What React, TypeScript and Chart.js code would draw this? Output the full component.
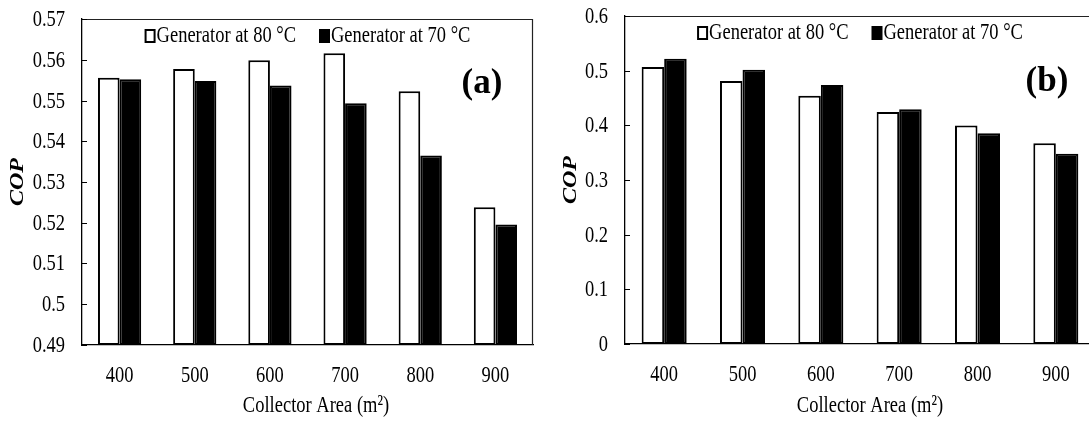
import React, { useEffect, useRef } from "react";
import { Chart, registerables } from "chart.js";

Chart.register(...registerables);

const categories = ["400", "500", "600", "700", "800", "900"];
const legendLabels = ["Generator at 80 °C", "Generator at 70 °C"];
const copA80 = [0.5556, 0.5577, 0.5599, 0.5616, 0.5523, 0.5238];
const copA70 = [0.5552, 0.5548, 0.5537, 0.5493, 0.5365, 0.5196];
const copB80 = [0.5065, 0.481, 0.4543, 0.4245, 0.3996, 0.3674];
const copB70 = [0.5217, 0.5016, 0.4737, 0.4294, 0.3857, 0.348];
const yAxisA = { min: 0.49, max: 0.57, step: 0.01 };
const yAxisB = { min: 0, max: 0.6, step: 0.1 };
const xTitle = "Collector Area (m²)";
const yTitle = "COP";

const SERIF = "'Liberation Serif', 'Times New Roman', serif";
const SY = 1.3;

function txt(
  ctx: CanvasRenderingContext2D,
  s: string,
  x: number,
  y: number,
  font: string,
  align: CanvasTextAlign,
  sy = SY,
  rotate = false
) {
  ctx.save();
  ctx.translate(x, y);
  ctx.scale(1, sy);
  if (rotate) ctx.rotate(-Math.PI / 2);
  ctx.font = font;
  ctx.fillStyle = "#000";
  ctx.textAlign = align;
  ctx.textBaseline = "middle";
  ctx.fillText(s, 0, 0);
  ctx.restore();
}

type Cfg = {
  v80: number[];
  v70: number[];
  axis: { min: number; max: number; step: number };
  padTop: number;
  padRight: number;
  yW: number;
  xH: number;
  panel: string;
  panelX: number;
  panelY: number;
  copX: number;
  titleX: number;
};

function fmt(v: number) {
  return String(Number(v.toFixed(2)));
}

function makeChart(canvas: HTMLCanvasElement, c: Cfg) {
  const deco = {
    id: "deco",
    afterDraw(chart: any) {
      const ctx: CanvasRenderingContext2D = chart.ctx;
      const a = chart.chartArea;
      const ys = chart.scales.y;
      const xs = chart.scales.x;
      const f = `18.5px ${SERIF}`;
      ctx.save();
      // top & right border
      ctx.strokeStyle = "#222";
      ctx.lineWidth = 1.2;
      ctx.beginPath();
      ctx.moveTo(a.left, a.top + 0.5);
      ctx.lineTo(a.right - 0.5, a.top + 0.5);
      ctx.lineTo(a.right - 0.5, a.bottom);
      ctx.stroke();
      // inward ticks + labels
      ctx.strokeStyle = "#000";
      ctx.lineWidth = 1;
      ys.ticks.forEach((t: any) => {
        const py = Math.round(ys.getPixelForValue(t.value)) + 0.5;
        ctx.beginPath();
        ctx.moveTo(a.left, py);
        ctx.lineTo(a.left + 5, py);
        ctx.stroke();
        txt(ctx, fmt(t.value), a.left - 17, py, f, "right");
      });
      categories.forEach((cat, i) => {
        txt(ctx, cat, xs.getPixelForValue(i), a.bottom + 31, f, "center");
      });
      txt(ctx, xTitle, c.titleX, 406, f, "center");
      txt(
        ctx,
        yTitle,
        c.copX,
        (a.top + a.bottom) / 2,
        `italic bold 18.5px ${SERIF}`,
        "center",
        SY,
        true
      );
      // legend
      ctx.font = f;
      const w1 = ctx.measureText(legendLabels[0]).width;
      const w2 = ctx.measureText(legendLabels[1]).width;
      const box = 11;
      const gap = 23;
      const total = box + 1 + w1 + gap + box + 1 + w2;
      let lx = (a.left + a.right) / 2 - total / 2;
      const ly = a.top + 17;
      ctx.lineWidth = 2;
      ctx.strokeStyle = "#000";
      ctx.fillStyle = "#fff";
      ctx.fillRect(lx + 1, ly - 6, box - 2, 12);
      ctx.strokeRect(lx + 1, ly - 6, box - 2, 12);
      txt(ctx, legendLabels[0], lx + box + 1, ly, f, "left");
      lx += box + 1 + w1 + gap;
      ctx.fillStyle = "#000";
      ctx.fillRect(lx, ly - 7, box, 14);
      txt(ctx, legendLabels[1], lx + box + 1, ly, f, "left");
      // panel label
      txt(ctx, c.panel, c.panelX, c.panelY, `bold 35px ${SERIF}`, "center", 1.05);
      ctx.restore();
    },
  };

  return new Chart(canvas, {
    type: "bar",
    data: {
      labels: categories,
      datasets: [
        {
          label: legendLabels[0],
          data: c.v80,
          backgroundColor: "#fff",
          borderColor: "#000",
          borderWidth: 2,
          borderSkipped: false,
          base: c.axis.min,
          categoryPercentage: 0.575,
          barPercentage: 1,
        },
        {
          label: legendLabels[1],
          data: c.v70,
          backgroundColor: "#000",
          borderColor: "#000",
          borderWidth: 2,
          borderSkipped: false,
          base: c.axis.min,
          categoryPercentage: 0.575,
          barPercentage: 1,
        },
      ],
    },
    options: {
      responsive: false,
      animation: false,
      layout: { padding: { left: 0, top: c.padTop, right: c.padRight, bottom: 0 } },
      plugins: { legend: { display: false }, tooltip: { enabled: false } },
      scales: {
        x: {
          grid: { display: false },
          border: { display: true, color: "#000", width: 1.3 },
          ticks: { display: false },
          afterFit: (s: any) => {
            s.height = c.xH;
          },
        },
        y: {
          min: c.axis.min,
          max: c.axis.max,
          grid: { display: false },
          border: { display: true, color: "#000", width: 1.3 },
          ticks: { display: false, stepSize: c.axis.step },
          afterFit: (s: any) => {
            s.width = c.yW;
          },
        },
      },
    },
    plugins: [deco],
  } as any);
}

export default function App() {
  const refA = useRef<HTMLCanvasElement>(null);
  const refB = useRef<HTMLCanvasElement>(null);
  useEffect(() => {
    const ca = makeChart(refA.current!, {
      v80: copA80,
      v70: copA70,
      axis: yAxisA,
      padTop: 19,
      padRight: 12,
      yW: 82,
      xH: 76,
      panel: "(a)",
      panelX: 482,
      panelY: 84,
      copX: 18,
      titleX: 316,
    });
    const cb = makeChart(refB.current!, {
      v80: copB80,
      v70: copB70,
      axis: yAxisB,
      padTop: 16,
      padRight: 10,
      yW: 80,
      xH: 77,
      panel: "(b)",
      panelX: 502,
      panelY: 82,
      copX: 26,
      titleX: 325,
    });
    return () => {
      ca.destroy();
      cb.destroy();
    };
  }, []);
  return (
    <div
      style={{
        position: "fixed",
        left: 0,
        top: 0,
        width: 1089,
        height: 421,
        overflow: "hidden",
        background: "#fff",
      }}
    >
      <canvas
        ref={refA}
        width={545}
        height={421}
        style={{ position: "absolute", left: 0, top: 0, display: "block" }}
      />
      <canvas
        ref={refB}
        width={560}
        height={421}
        style={{ position: "absolute", left: 545, top: 0, display: "block" }}
      />
    </div>
  );
}
